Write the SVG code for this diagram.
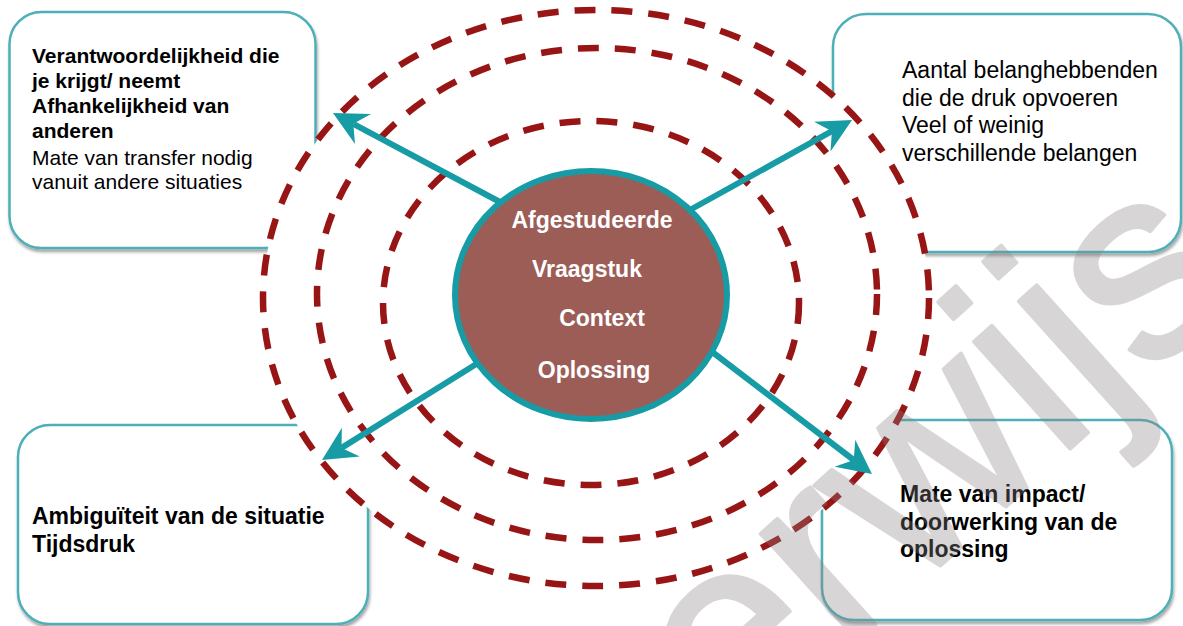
<svg xmlns="http://www.w3.org/2000/svg" width="1183" height="626" viewBox="0 0 1183 626">
<defs>
<filter id="sh" x="-5%" y="-5%" width="110%" height="115%">
<feDropShadow dx="1" dy="3" stdDeviation="1.5" flood-color="#000" flood-opacity="0.35"/>
</filter>
<marker id="ah" viewBox="-12 -18 36 36" markerWidth="36" markerHeight="36" refX="0" refY="0" orient="auto" markerUnits="userSpaceOnUse">
<path d="M23,0 L-11,-17 L0,0 L-11,17 Z" fill="#179ba5"/>
</marker>
<style>
.box{fill:#fff;stroke:#4dafb8;stroke-width:2.5;filter:url(#sh)}
.ring{fill:none;stroke:#981515;stroke-width:6.5;stroke-dasharray:21 16}
.arr{stroke:#179ba5;stroke-width:6;fill:none;marker-end:url(#ah)}
.t{font-family:"Liberation Sans",Arial,sans-serif;fill:#000}
.b{font-weight:bold}
.c{font-family:"Liberation Sans",Arial,sans-serif;font-weight:bold;font-size:23px;fill:#fff;text-anchor:middle}
</style>
</defs>
<rect width="1183" height="626" fill="#fff"/>
<g id="box-topleft">
<rect class="box" x="9.5" y="12" width="306" height="236" rx="32"/>
<text class="t" font-size="21">
<tspan class="b" x="32" y="63">Verantwoordelijkheid die</tspan>
<tspan class="b" x="32" y="88">je krijgt/ neemt</tspan>
<tspan class="b" x="32" y="113">Afhankelijkheid van</tspan>
<tspan class="b" x="32" y="138">anderen</tspan>
<tspan x="32" y="165">Mate van transfer nodig</tspan>
<tspan x="32" y="189">vanuit andere situaties</tspan>
</text>
</g>
<g id="box-topright">
<rect class="box" x="833" y="14" width="348" height="238" rx="33"/>
<text class="t" font-size="23">
<tspan x="902" y="78">Aantal belanghebbenden</tspan>
<tspan x="902" y="105.5">die de druk opvoeren</tspan>
<tspan x="902" y="133">Veel of weinig</tspan>
<tspan x="902" y="160.5">verschillende belangen</tspan>
</text>
</g>
<g id="box-bottomleft">
<rect class="box" x="18" y="425" width="350" height="199" rx="32"/>
<text class="t b" font-size="23">
<tspan x="32" y="524">Ambiguïteit van de situatie</tspan>
<tspan x="32" y="552">Tijdsdruk</tspan>
</text>
</g>
<g id="box-bottomright">
<rect class="box" x="822" y="420" width="350" height="200" rx="32"/>
<text class="t b" font-size="23">
<tspan x="900" y="502">Mate van impact/</tspan>
<tspan x="900" y="530">doorwerking van de</tspan>
<tspan x="900" y="557">oplossing</tspan>
</text>
</g>
<g id="rings">
<ellipse cx="596" cy="298" rx="333" ry="288" fill="#fff"/>
<ellipse class="ring" cx="596" cy="298" rx="333" ry="288"/>
<ellipse class="ring" cx="597" cy="294" rx="280" ry="246"/>
<ellipse class="ring" cx="591" cy="303" rx="208" ry="182"/>
</g>
<g id="connectors">
<line class="arr" x1="500" y1="202" x2="353.3" y2="123.8"/>
<line class="arr" x1="688" y1="211" x2="831.9" y2="131.2"/>
<line class="arr" x1="478" y1="363" x2="341.5" y2="447.9"/>
<line class="arr" x1="707" y1="348" x2="853.7" y2="460"/>
</g>
<g id="center">
<ellipse cx="591" cy="295" rx="136" ry="124" fill="#9d5d57" stroke="#179ba5" stroke-width="6"/>
<text class="c" x="592" y="228">Afgestudeerde</text>
<text class="c" x="587" y="277">Vraagstuk</text>
<text class="c" x="602" y="326">Context</text>
<text class="c" x="594" y="378">Oplossing</text>
</g>
<g id="watermark" opacity="0.33">
<text x="731" y="754" transform="rotate(-42 731 754)" font-family="Liberation Sans,Arial,sans-serif" font-size="272" fill="#8a8386" stroke="#8a8386" stroke-width="4" stroke-linejoin="round">erwijs</text>
</g>
</svg>
